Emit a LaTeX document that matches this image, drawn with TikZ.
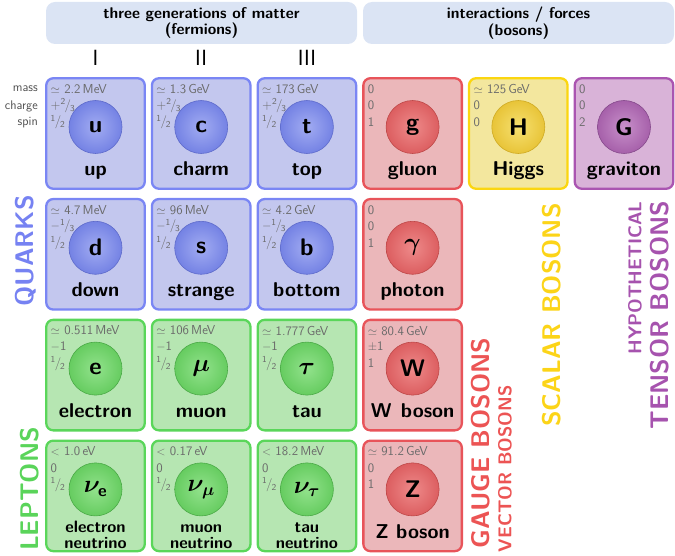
\documentclass[tikz,border=0pt]{standalone}
\usepackage{amsmath}
\usetikzlibrary{calc}
\definecolor{hdrfill}{HTML}{DBE4F4}
\definecolor{qborder}{HTML}{7A86F4}
\definecolor{qfill}{HTML}{C3C7EE}
\definecolor{qin}{HTML}{A2ACF2}
\definecolor{qout}{HTML}{7482E4}
\definecolor{qedge}{HTML}{5E6BCB}
\definecolor{lborder}{HTML}{5AD65A}
\definecolor{lfill}{HTML}{B6E6B2}
\definecolor{lin}{HTML}{92E28C}
\definecolor{lout}{HTML}{66CC60}
\definecolor{ledge}{HTML}{4BAA47}
\definecolor{gborder}{HTML}{E8545A}
\definecolor{gfill}{HTML}{EBB7BA}
\definecolor{gin}{HTML}{EE8A8A}
\definecolor{gout}{HTML}{DC5E60}
\definecolor{gedge}{HTML}{BE4848}
\definecolor{hborder}{HTML}{FBD610}
\definecolor{hfill}{HTML}{F3E79E}
\definecolor{hin}{HTML}{F6E070}
\definecolor{hout}{HTML}{E8C438}
\definecolor{hedge}{HTML}{CFAA22}
\definecolor{tborder}{HTML}{AA55B1}
\definecolor{tfill}{HTML}{D9B3D8}
\definecolor{tin}{HTML}{C890CA}
\definecolor{tout}{HTML}{A660AA}
\definecolor{tedge}{HTML}{864A8C}
\definecolor{infogray}{HTML}{6A6A6A}
\definecolor{lblgray}{HTML}{505050}
\definecolor{quarkcol}{HTML}{7682F2}
\definecolor{leptoncol}{HTML}{5AD45A}
\definecolor{gaugecol}{HTML}{EC5454}
\definecolor{scalarcol}{HTML}{FCD418}
\definecolor{tensorcol}{HTML}{A653AE}
\newcommand\fr[2]{\textsuperscript{#1}\kern-.08em/\kern-.08em\textsubscript{#2}}
\newcommand\namesize{20}
\newcommand\namey{42.5}
\tikzset{
  cellbox/.style={draw=#1border, fill=#1fill, line width=2.3pt, rounded corners=7pt,
    minimum width=98.5pt, minimum height=110.5pt, inner sep=0pt},
  pball/.style={circle, draw=#1edge, line width=0.6pt, inner color=#1in, outer color=#1out,
    minimum size=53pt, inner sep=0pt},
  info/.style={anchor=west, inner sep=0pt, text=infogray, font=\fontsize{13}{13}\selectfont},
  lbl/.style={anchor=east, inner sep=0pt, text=lblgray, font=\fontsize{12.5}{12.5}\selectfont},
  sym/.style={font=\fontsize{24}{24}\selectfont\bfseries\boldmath, inner sep=0pt},
  pname/.style={anchor=base, font=\fontsize{\namesize}{\namesize}\selectfont\bfseries, inner sep=0pt},
  hdr/.style={fill=hdrfill, rounded corners=9pt, minimum width=311pt, minimum height=42pt,
    align=center, font=\fontsize{15.5}{16.5}\selectfont\bfseries, inner sep=0pt},
  roman/.style={font=\fontsize{22}{22}\selectfont, inner sep=0pt},
  vlab/.style={rotate=90, inner sep=0pt, font=\fontsize{25.5}{25.5}\selectfont\bfseries},
  vsmall/.style={rotate=90, inner sep=0pt, font=\fontsize{18.5}{18.5}\selectfont\bfseries},
}
\newcommand\pcell[9]{%
  \node[cellbox=#4] (#1) at (#2,#3) {};
  \node[info] (#1-mass) at ($(#1.center)+(-45,-44.5)$) {#5};
  \node[info] (#1-charge) at ($(#1.center)+(-45,-28)$) {#6};
  \node[info] (#1-spin) at ($(#1.center)+(-45,-11.5)$) {#7};
  \node[pball=#4] (#1-ball) at ($(#1.center)+(0,-6.5)$) {};
  \node[sym] (#1-sym) at (#1-ball) {#8};
  \node[pname] (#1-name) at ($(#1.center)+(0,\namey)$) {#9};
}
\renewcommand\familydefault{\sfdefault}
\begin{document}
\begin{tikzpicture}[x=1pt,y=-1pt]
\useasboundingbox (0,0) rectangle (675,556);
% headers
\node[hdr] (hdrL) at (201.5,23) {three generations of matter\\(fermions)};
\node[hdr] (hdrR) at (518.5,23) {interactions / forces\\(bosons)};
\node[roman] (gen1) at (95.5,58) {I};
\node[roman] (gen2) at (201.2,58) {II};
\node[roman] (gen3) at (306.9,58) {III};
% row labels
\node[lbl] (lmass) at (38,89) {mass};
\node[lbl] (lcharge) at (38,106) {charge};
\node[lbl] (lspin) at (38,123) {spin};
% row 1
\pcell{u}{95.5}{133.5}{q}{$\simeq$ 2.2\,MeV}{+\fr{2}{3}}{\fr{1}{2}}{u}{up}
\pcell{c}{201.2}{133.5}{q}{$\simeq$ 1.3\,GeV}{+\fr{2}{3}}{\fr{1}{2}}{c}{charm}
\pcell{t}{306.9}{133.5}{q}{$\simeq$ 173\,GeV}{+\fr{2}{3}}{\fr{1}{2}}{t}{top}
\pcell{g}{412.6}{133.5}{g}{0}{0}{1}{g}{gluon}
\pcell{H}{518.3}{133.5}{h}{$\simeq$ 125\,GeV}{0}{0}{H}{Higgs}
\pcell{G}{624}{133.5}{t}{0}{0}{2}{G}{graviton}
% row 2
\pcell{d}{95.5}{254.3}{q}{$\simeq$ 4.7\,MeV}{$-$\fr{1}{3}}{\fr{1}{2}}{d}{down}
\pcell{s}{201.2}{254.3}{q}{$\simeq$ 96\,MeV}{$-$\fr{1}{3}}{\fr{1}{2}}{s}{strange}
\pcell{b}{306.9}{254.3}{q}{$\simeq$ 4.2\,GeV}{$-$\fr{1}{3}}{\fr{1}{2}}{b}{bottom}
\pcell{gamma}{412.6}{254.3}{g}{0}{0}{1}{$\gamma$}{photon}
% row 3
\pcell{e}{95.5}{375.1}{l}{$\simeq$ 0.511\,MeV}{$-$1}{\fr{1}{2}}{e}{electron}
\pcell{mu}{201.2}{375.1}{l}{$\simeq$ 106\,MeV}{$-$1}{\fr{1}{2}}{$\mu$}{muon}
\pcell{tau}{306.9}{375.1}{l}{$\simeq$ 1.777\,GeV}{$-$1}{\fr{1}{2}}{$\tau$}{tau}
\pcell{W}{412.6}{375.1}{g}{$\simeq$ 80.4\,GeV}{$\pm$1}{1}{W}{W\kern2pt\ boson}
\pcell{Z}{412.6}{495.9}{g}{$\simeq$ 91.2\,GeV}{0}{1}{Z}{Z boson}
% row 4 (neutrinos: two-line names)
\renewcommand\namesize{16.5}
\renewcommand\namey{37}
\pcell{nue}{95.5}{495.9}{l}{$<$ 1.0\,eV}{0}{\fr{1}{2}}{$\nu_{\text{e}}$}{electron}
\pcell{numu}{201.2}{495.9}{l}{$<$ 0.17\,eV}{0}{\fr{1}{2}}{$\nu_{\mu}$}{muon}
\pcell{nutau}{306.9}{495.9}{l}{$<$ 18.2\,MeV}{0}{\fr{1}{2}}{$\nu_{\tau}$}{tau}
\node[pname] (nue-name2) at ($(nue.center)+(0,52.5)$) {neutrino};
\node[pname] (numu-name2) at ($(numu.center)+(0,52.5)$) {neutrino};
\node[pname] (nutau-name2) at ($(nutau.center)+(0,52.5)$) {neutrino};
% vertical labels
\node[vlab, text=quarkcol] (quarks) at (26,251) {QUARKS};
\node[vlab, text=leptoncol] (leptons) at (30,489) {LEPTONS};
\node[vlab, text=gaugecol] (gauge) at (481,443) {GAUGE BOSONS};
\node[vsmall, text=gaugecol] (vector) at (505,469) {VECTOR BOSONS};
\node[vlab, text=scalarcol] (scalar) at (552,315) {SCALAR BOSONS};
\node[vsmall, text=tensorcol] (hypo) at (635,278) {HYPOTHETICAL};
\node[vlab, text=tensorcol] (tensor) at (660,315) {TENSOR BOSONS};
\end{tikzpicture}
\end{document}
